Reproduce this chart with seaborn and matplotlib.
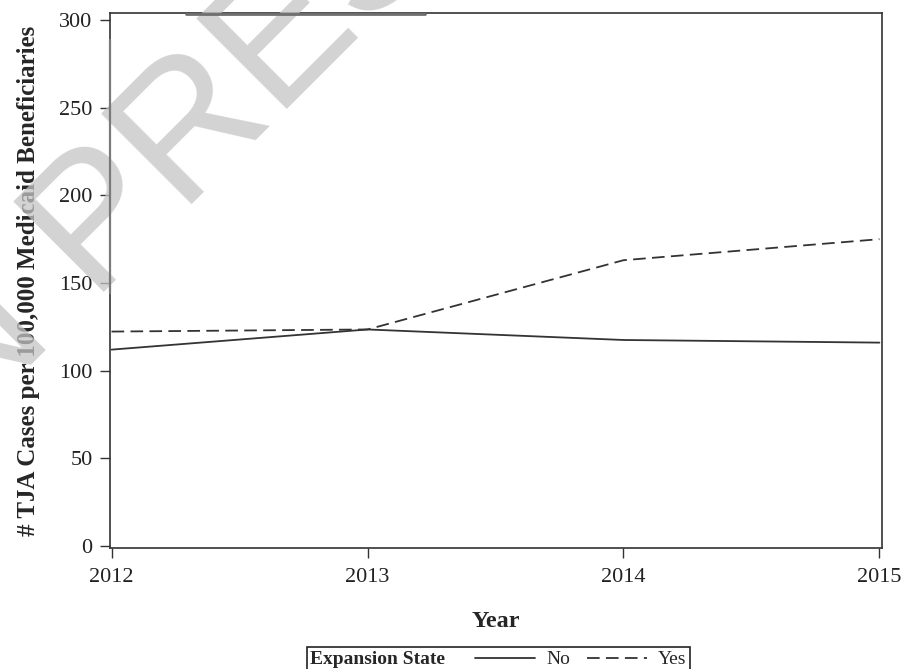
import matplotlib
matplotlib.use("Agg")
import matplotlib.pyplot as plt
from matplotlib.lines import Line2D
from matplotlib.offsetbox import HPacker
import pandas as pd
import seaborn as sns

# TJA cases per 100,000 Medicaid beneficiaries, by state expansion status
years = [2012, 2013, 2014, 2015]
no_expansion = [112.0, 123.5, 117.5, 116.0]
yes_expansion = [122.3, 123.5, 163.0, 175.0]
groups = ["No", "Yes"]
y_ticks = [0, 50, 100, 150, 200, 250, 300]

df = pd.DataFrame({
    "Year": years * 2,
    "Rate": no_expansion + yes_expansion,
    "Expansion State": [groups[0]] * len(years) + [groups[1]] * len(years),
})

sns.set_style("ticks")
plt.rcParams["font.family"] = ["Liberation Serif", "DejaVu Serif"]

ink = "#333333"
dash_pat = (7, 3.5)
W, H = 904, 669

fig = plt.figure(figsize=(W / 100, H / 100), dpi=100)
ax = fig.add_axes([110 / W, 1 - 548 / H, 772 / W, 535 / H])

sns.lineplot(
    data=df, x="Year", y="Rate", hue="Expansion State", style="Expansion State",
    palette={"No": ink, "Yes": ink}, dashes={"No": "", "Yes": dash_pat},
    linewidth=1.3, ax=ax, legend=False,
)

ax.set_xlim(2011.994, 2015.01)
ax.set_ylim(-1.14, 304.0)
ax.set_xticks(years)
ax.set_xticklabels([str(y) for y in years])
ax.set_yticks(y_ticks)
ax.tick_params(axis="both", direction="out", length=7.5, width=1.0, color=ink,
               labelsize=16, labelcolor="#222222")
ax.tick_params(axis="x", pad=7)
ax.tick_params(axis="y", pad=5)
for s in ax.spines.values():
    s.set_visible(True)
    s.set_color(ink)
    s.set_linewidth(1.2)

ax.set_xlabel("Year", fontsize=17.5, fontweight="bold", labelpad=17)
ax.set_ylabel("# TJA Cases per 100,000 Medicaid Beneficiaries", fontsize=18,
              fontweight="bold", labelpad=14)

# Legend: title on the left, entries laid out in one row
handles = [
    Line2D([], [], color=ink, lw=1.3, linestyle="-"),
    Line2D([], [], color=ink, lw=1.3, linestyle=(0, dash_pat)),
]
leg = fig.legend(
    handles, groups, title="Expansion State", ncol=2,
    loc="upper center", bbox_to_anchor=(498.5 / W, 1 - 647 / H),
    borderaxespad=0, fontsize=14, title_fontproperties={"weight": "bold", "size": 14},
    frameon=True, fancybox=False, edgecolor="#222222", framealpha=1,
    handlelength=3.1, handletextpad=0.57, columnspacing=0.87, borderpad=0.2,
)
leg.get_frame().set_linewidth(1.2)
old_box = leg._legend_box
row = HPacker(pad=old_box.pad, sep=21, align="center", children=old_box.get_children())
row.set_figure(fig)
row.axes = old_box.axes
row.set_offset(leg._findoffset)
leg._legend_box = row

# Watermark: large grey lettering tilted 45 degrees, with its faint edge strokes
fig.text(-74 / W, 1 - 471 / H, "IN PRESS", rotation=45, rotation_mode="anchor",
         ha="left", va="baseline", fontsize=134, family="Liberation Sans",
         color="#c4c4c4", alpha=0.75, zorder=10)
fig.add_artist(Line2D([110.5 / W, 110.5 / W], [1 - 40 / H, 1 - 293 / H],
                      color="#7a7a7a", lw=1.6, zorder=11))
fig.add_artist(Line2D([186 / W, 425 / W], [1 - 13.5 / H, 1 - 13.5 / H],
                      color="#6f6f6f", lw=2.0, zorder=11))

fig.savefig("out.png", dpi=100)
